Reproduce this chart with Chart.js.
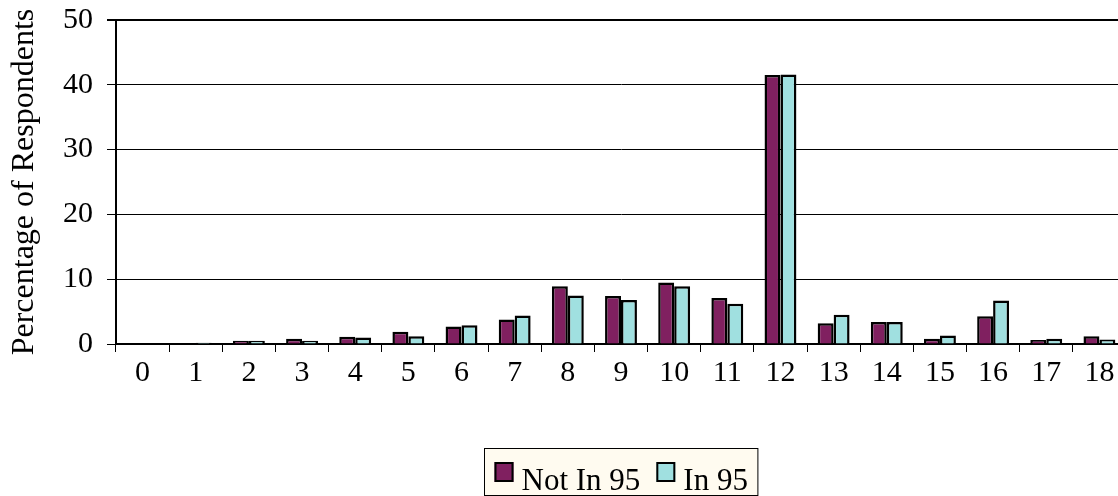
<!DOCTYPE html>
<html>
<head>
<meta charset="utf-8">
<style>
  html, body { margin: 0; padding: 0; background: #ffffff; overflow: hidden; width: 1118px; height: 496px; }
  #wrap { position: relative; width: 1140px; height: 496px; }
</style>
<script src="https://cdn.jsdelivr.net/npm/chart.js@4.4.1/dist/chart.umd.min.js"></script>
</head>
<body>
<div id="wrap"><canvas id="chart" width="1140" height="496"></canvas></div>
<script>
// Years of schooling completed, share of respondents (%)
const categories = ['0','1','2','3','4','5','6','7','8','9','10','11','12','13','14','15','16','17','18'];
const notIn95 = [0.1, 0, 0.5, 0.8, 1.1, 1.9, 2.7, 3.8, 8.9, 7.4, 9.5, 7.1, 41.5, 3.2, 3.4, 0.8, 4.3, 0.6, 1.2];
const in95    = [0.1, 0.2, 0.5, 0.5, 1.0, 1.2, 2.9, 4.4, 7.5, 6.8, 8.9, 6.2, 41.6, 4.5, 3.4, 1.3, 6.7, 0.8, 0.7];
const seriesNames = ['Not In 95', 'In 95'];
const yTicks = [0, 10, 20, 30, 40, 50];

const FONT = '"Liberation Serif", "Times New Roman", serif';

// Boxed legend centred under the plot area
const boxedLegend = {
  id: 'boxedLegend',
  afterDraw(chart) {
    const ctx = chart.ctx;
    const area = chart.chartArea;
    const sets = chart.data.datasets;
    ctx.save();
    ctx.font = '31px ' + FONT;
    const box = 19, gapText = 8, gapItem = 16, pad = 10;
    const widths = sets.map(d => ctx.measureText(d.label).width);
    let total = pad * 2;
    widths.forEach((w, i) => { total += box + gapText + w + (i ? gapItem : 0); });
    const cx = (area.left + area.right) / 2;
    const left = Math.round(cx - total / 2) + 0.5;
    const top = 448.5;
    ctx.fillStyle = '#fffbf0';
    ctx.fillRect(left, top, total, 47);
    ctx.strokeStyle = '#000';
    ctx.lineWidth = 1;
    ctx.strokeRect(left, top, total, 47);
    let x = left + pad;
    sets.forEach((d, i) => {
      if (i) x += gapItem;
      ctx.fillStyle = d.backgroundColor;
      ctx.fillRect(x, 462, box, 20);
      ctx.lineWidth = 2;
      ctx.strokeRect(x + 1, 463, box - 2, 18);
      x += box + gapText;
      ctx.fillStyle = '#000';
      ctx.textBaseline = 'alphabetic';
      ctx.textAlign = 'left';
      ctx.fillText(d.label, x, 490);
      x += widths[i];
    });
    ctx.restore();
  }
};

new Chart(document.getElementById('chart'), {
  type: 'bar',
  data: {
    labels: categories,
    datasets: [
      { label: seriesNames[0], data: notIn95, backgroundColor: '#802060', borderColor: '#000000', borderWidth: 2.5 },
      { label: seriesNames[1], data: in95, backgroundColor: '#a0e0e0', borderColor: '#000000', borderWidth: 2.5 }
    ]
  },
  options: {
    responsive: false,
    animation: false,
    devicePixelRatio: 1,
    layout: { padding: { top: 20, right: 14, bottom: 92, left: 0 } },
    datasets: { bar: { categoryPercentage: 0.6, barPercentage: 1.0 } },
    plugins: {
      legend: { display: false },
      tooltip: { enabled: false }
    },
    scales: {
      x: {
        offset: true,
        grid: { offset: true, drawOnChartArea: false, drawTicks: true, tickLength: 8, color: '#000', lineWidth: 1 },
        border: { display: true, color: '#000', width: 2 },
        ticks: { color: '#000', font: { family: FONT, size: 30 }, padding: 3, maxRotation: 0, autoSkip: false },
        afterFit(scale) { scale.height = 60; scale.paddingLeft = 0; scale.paddingRight = 0; }
      },
      y: {
        min: 0,
        max: 50,
        afterBuildTicks(scale) { scale.ticks = yTicks.map(v => ({ value: v })); },
        grid: {
          color: '#000',
          lineWidth: ctx => (ctx.tick && ctx.tick.value === 50 ? 2 : 1),
          drawTicks: true,
          tickLength: 9
        },
        border: { display: true, color: '#000', width: 2 },
        ticks: { color: '#000', font: { family: FONT, size: 30 }, padding: 14 },
        title: {
          display: true,
          text: 'Percentage of Respondents',
          color: '#000',
          font: { family: FONT, size: 32 },
          padding: { top: 5, bottom: 0 }
        },
        afterFit(scale) { scale.width = 116; scale.paddingTop = 0; scale.paddingBottom = 0; }
      }
    }
  },
  plugins: [boxedLegend]
});
</script>
</body>
</html>
